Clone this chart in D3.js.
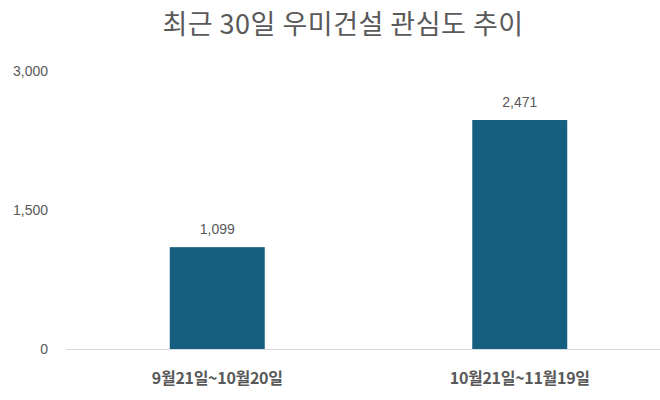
<!DOCTYPE html>
<html>
<head>
<meta charset="utf-8">
<script src="https://cdn.jsdelivr.net/npm/d3@7.9.0/dist/d3.min.js"></script>
<style>
  body { margin: 0; background: #fff; }
  svg text { fill: #595959; }
</style>
</head>
<body>
<svg width="660" height="400"></svg>
<script>
const categories = ["9월21일~10월20일", "10월21일~11월19일"];
const values = [1099, 2471];
const yTicks = [0, 1500, 3000];
const title = "최근 30일 우미건설 관심도 추이";

const svg = d3.select("svg");
const fmt = d3.format(",");

// plot area
const x = d3.scaleBand()
  .domain(categories)
  .range([66, 671])
  .paddingInner(0.686)
  .paddingOuter(0.343);

const y = d3.scaleLinear()
  .domain([0, 3000])
  .range([349, 71]);

// title
svg.append("text")
  .attr("x", 343)
  .attr("y", 34)
  .attr("text-anchor", "middle")
  .style("font-family", "'Noto Sans CJK KR', sans-serif")
  .style("font-size", "27px")
  .style("letter-spacing", "0.5px")
  .text(title);

// y axis labels (no gridlines)
svg.selectAll(".ytick")
  .data(yTicks)
  .join("text")
  .attr("class", "ytick")
  .attr("x", 48)
  .attr("y", d => y(d))
  .attr("dy", "0.35em")
  .attr("text-anchor", "end")
  .style("font-family", "'Liberation Sans', Arial, sans-serif")
  .style("font-size", "14px")
  .text(d => fmt(d));

// bars
svg.selectAll(".bar")
  .data(values)
  .join("rect")
  .attr("class", "bar")
  .attr("x", (d, i) => x(categories[i]))
  .attr("width", x.bandwidth())
  .attr("y", d => y(d))
  .attr("height", d => y(0) - y(d))
  .attr("fill", "#175f80");

// baseline
svg.append("line")
  .attr("x1", 66)
  .attr("x2", 660)
  .attr("y1", y(0) + 0.5)
  .attr("y2", y(0) + 0.5)
  .attr("stroke", "#d9d9d9")
  .attr("stroke-width", 1);

// value labels
svg.selectAll(".val")
  .data(values)
  .join("text")
  .attr("class", "val")
  .attr("x", (d, i) => x(categories[i]) + x.bandwidth() / 2)
  .attr("y", d => y(d) - 13)
  .attr("text-anchor", "middle")
  .style("font-family", "'Liberation Sans', Arial, sans-serif")
  .style("font-size", "14px")
  .text(d => fmt(d));

// x labels
svg.selectAll(".xlab")
  .data(categories)
  .join("text")
  .attr("class", "xlab")
  .attr("x", d => x(d) + x.bandwidth() / 2)
  .attr("y", 384)
  .attr("text-anchor", "middle")
  .style("font-family", "'Noto Sans CJK KR', sans-serif")
  .style("font-size", "16px")
  .style("font-weight", "bold")
  .style("letter-spacing", "-0.3px")
  .text(d => d);
</script>
</body>
</html>
